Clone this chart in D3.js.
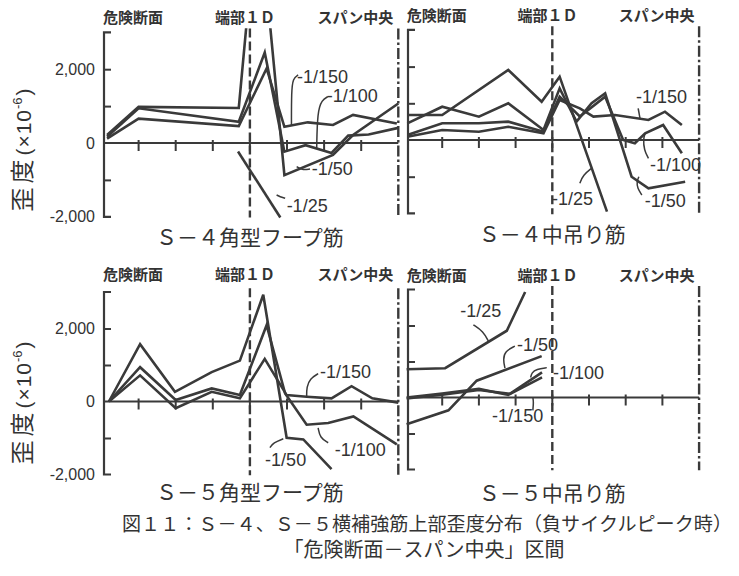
<!DOCTYPE html>
<html><head><meta charset="utf-8">
<script src="https://cdn.jsdelivr.net/npm/d3@7"></script>
<style>
body{margin:0;background:#fff}
text{fill:#333}
</style>
</head><body><svg id="c" width="739" height="576"></svg>
<script>
// ---------------- DATA ----------------
const seriesNames = ["-1/150", "-1/100", "-1/50", "-1/25"];
const headerLabels = ["危険断面", "端部１Ｄ", "スパン中央"];
const panelTitles = ["Ｓ－４角型フープ筋", "Ｓ－４中吊り筋", "Ｓ－５角型フープ筋", "Ｓ－５中吊り筋"];
const xTickPositions = [1, 2, 3, 4, 5, 6, 7];
const yMinorTicks = [-1000, 1000, 2000];
const yTickLabels = [-2000, 0, 2000];
const sectionLines = [4, 8];           // 端部1D, スパン中央 (gauge position)
const captionLines = ["図１１：Ｓ－４、Ｓ－５横補強筋上部歪度分布（負サイクルピーク時）", "「危険断面－スパン中央」区間"];
const yLabel = ["歪度", "(×10", "-6", ")"];

// [gauge position, strain (×10^-6)]
// S-4 角型フープ筋
const s4Hoop150 = [[0.15,120],[1,660],[3.7,460],[4.45,2020],[4.93,440],[5.56,560],[6.24,490],[6.78,760],[7.96,530]];
const s4Hoop100 = [[0.15,170],[1,940],[3.7,575],[4.4,2450],[4.93,-235],[5.5,-60],[6.2,-270],[6.65,200],[7.2,230],[8,410]];
const s4Hoop50  = [[0.15,220],[1,980],[3.7,950],[4.22,6600],[4.93,-870],[6.24,-325],[6.78,217],[8,1070]];
const s4Hoop25  = [[3.68,-230],[4.82,-2020]];
// S-4 中吊り筋
const s4Hang150 = [[0.05,90],[1,272],[2,226],[2.8,362],[3.76,182],[4.2,1090],[4.75,863],[5.12,636],[5.71,681],[6.62,545],[7.07,772],[7.53,409]];
const s4Hang100 = [[0.05,136],[1,455],[2,455],[2.8,500],[3.76,226],[4.2,1180],[4.75,640],[5.44,1180],[5.93,0],[6.25,-90],[6.53,182],[7.02,409],[7.53,-363]];
const s4Hang50  = [[0.05,455],[1,907],[2,635],[2.8,1000],[3.76,272],[4.2,1408],[4.66,500],[5.07,1000],[5.44,1272],[6.16,-1000],[6.62,-1316],[7.62,-1136]];
const s4Hang25  = [[0.05,681],[1,681],[2.8,1907],[3.71,1044],[4.2,1725],[5.49,-1950]];
// S-5 角型フープ筋
const s5Hoop150 = [[0.2,0],[1.04,716],[2,-185],[2.97,265],[3.73,86],[4.4,1168],[4.99,176],[5.53,130],[6.2,86],[6.74,419],[7.3,86],[8,-30]];
const s5Hoop100 = [[0.2,0],[1.04,940],[2,40],[2.97,357],[3.73,176],[4.45,2090],[4.95,220],[5.53,-635],[6.11,-590],[6.79,-410],[7.96,-1175]];
const s5Hoop50  = [[0.2,0],[1.04,1570],[1.98,265],[2.97,805],[3.73,1120],[4.36,2925],[4.99,-995],[5.44,-1040],[6.2,-1850]];
// S-5 中吊り筋
const s5Hang150 = [[0.03,-30],[1,80],[2,210],[2.85,100],[3.72,560]];
const s5Hang100 = [[0.03,0],[1,110],[2,240],[2.8,70],[3.72,700]];
const s5Hang50  = [[0.03,-745],[1.17,-356],[1.94,466],[3.71,1150]];
const s5Hang25  = [[0.03,786],[1.08,814],[2.76,1855],[3.26,2930]];

const panelSeries = [
  [s4Hoop150, s4Hoop100, s4Hoop50, s4Hoop25],
  [s4Hang150, s4Hang100, s4Hang50, s4Hang25],
  [s5Hoop150, s5Hoop100, s5Hoop50],
  [s5Hang150, s5Hang100, s5Hang50, s5Hang25]
];

// ---------------- LAYOUT ----------------
const layout = [
  {x0:101.5, dx:37.1, zero:143,   s:36.9, yAxisText:true,  headY:23,  titleY:245, labelY:150},
  {x0:405.5, dx:36.7, zero:140,   s:36.7, yAxisText:false, headY:21,  titleY:242},
  {x0:101.5, dx:37.1, zero:401.5, s:36.5, yAxisText:true,  headY:280, titleY:500, labelY:403},
  {x0:405.5, dx:36.7, zero:397.5, s:36.0, yAxisText:false, headY:281, titleY:501}
];
const headerK = [0.85, 3.87, 6.84];
// annotations: panel, series label, text anchor [k, strain], leader points [k, strain]
const annotations = [
  {p:0, t:"-1/150", at:[5.27,1626], lead:[[5.30,1843],[5.16,1753],[5.12,1390],[5.12,488]]},
  {p:0, t:"-1/100", at:[6.07,1111], lead:[[6.10,1255],[5.94,1165],[5.82,848],[5.80,-144]]},
  {p:0, t:"-1/50",  at:[5.67,-867], lead:[[5.62,-705],[5.40,-732],[5.26,-642]]},
  {p:0, t:"-1/25",  at:[4.99,-1862],lead:[[4.95,-1499],[4.81,-1455],[4.72,-1409]]},
  {p:1, t:"-1/150", at:[6.28,1008], lead:[[6.34,864],[6.39,591]]},
  {p:1, t:"-1/100", at:[6.66,-845], lead:[[6.62,-499],[6.50,-273],[6.48,46],[6.53,182]]},
  {p:1, t:"-1/50",  at:[6.52,-1826],lead:[[6.44,-1499],[6.32,-1316],[6.30,-1136],[6.36,-1000]]},
  {p:1, t:"-1/25",  at:[3.99,-1771],lead:[[4.75,-1180],[4.84,-954],[5.07,-771]]},
  {p:2, t:"-1/150", at:[5.89,635],  lead:[[5.84,762],[5.62,627],[5.53,400],[5.53,130]]},
  {p:2, t:"-1/100", at:[6.29,-1500],lead:[[6.11,-1130],[5.89,-995],[5.84,-724]]},
  {p:2, t:"-1/50",  at:[4.41,-1770],lead:[[4.54,-1265],[4.63,-1130],[4.90,-1022]]},
  {p:3, t:"-1/25",  at:[1.49,2247], lead:[[1.85,2019],[2.12,1836],[2.26,1562]]},
  {p:3, t:"-1/50",  at:[3.04,1288], lead:[[2.98,1425],[2.71,1288],[2.66,1060],[2.71,814]]},
  {p:3, t:"-1/100", at:[4.02,521],  lead:[[3.85,830],[3.57,786],[3.44,693],[3.41,556]]},
  {p:3, t:"-1/150", at:[2.36,-685], lead:[[3.47,-356],[3.49,-129],[3.47,8]]}
];

// ---------------- DRAW ----------------
const svg = d3.select("#c");
svg.append("rect").attr("width",739).attr("height",576).attr("fill","#fff");
const ink = "#3a3a3a";
const CJK = "'Noto Sans CJK JP','Noto Sans CJK SC',sans-serif";
const LAT = "'Liberation Sans',Arial,sans-serif";
const fmt = v => d3.format(",")(v).replace("−","-");

layout.forEach((L, i) => {
  const x = d3.scaleLinear().domain([0, 8]).range([L.x0, L.x0 + 8 * L.dx]);
  const y = d3.scaleLinear().domain([-2000, 3000]).range([L.zero + 2000 * L.s / 1000, L.zero - 3000 * L.s / 1000]);
  const g = svg.append("g");
  const bx = x(0) + 2.5;

  // bracket y-axis
  g.append("path")
    .attr("d", `M${bx+7},${y(3000)}H${bx}V${y(-2000)}H${bx+7}`)
    .attr("fill","none").attr("stroke",ink).attr("stroke-width",2.2);
  const yAx = d3.axisRight(y).tickValues(yMinorTicks).tickSize(7).tickFormat("");
  const ya = g.append("g").attr("transform",`translate(${bx},0)`).call(yAx);
  ya.select(".domain").remove();
  ya.selectAll("line").attr("stroke",ink).attr("stroke-width",2);

  if (L.yAxisText) {
    const yl = d3.axisLeft(y).tickValues(yTickLabels).tickSize(0).tickPadding(9).tickFormat(fmt);
    const yg = g.append("g").attr("transform",`translate(${bx},0)`).call(yl);
    yg.select(".domain").remove();
    yg.selectAll("text").attr("font-family",LAT).attr("font-size",16).attr("fill","#333");
    // y label
    const t = g.append("text").attr("transform",`translate(31,${L.labelY}) rotate(-90)`)
      .attr("text-anchor","middle").attr("fill","#333");
    t.append("tspan").text(yLabel[0]).attr("font-family",CJK).attr("font-size",24).attr("letter-spacing",4);
    t.append("tspan").text(yLabel[1]).attr("font-family",LAT).attr("font-size",21).attr("letter-spacing",1);
    t.append("tspan").text(yLabel[2]).attr("font-family",LAT).attr("font-size",13).attr("dy",-9);
    t.append("tspan").text(yLabel[3]).attr("font-family",LAT).attr("font-size",21).attr("dy",9).attr("dx",2);
  }

  // x axis
  g.append("line").attr("x1",bx).attr("x2",x(8)).attr("y1",y(0)).attr("y2",y(0))
    .attr("stroke",ink).attr("stroke-width",2.2);
  g.selectAll(".xt").data(xTickPositions).join("line")
    .attr("x1",d=>x(d)).attr("x2",d=>x(d)).attr("y1",y(0)-3).attr("y2",y(0)+8)
    .attr("stroke",ink).attr("stroke-width",2);

  // section lines
  g.append("line").attr("x1",x(sectionLines[0])).attr("x2",x(sectionLines[0]))
    .attr("y1",y(3100)).attr("y2",y(-2020))
    .attr("stroke",ink).attr("stroke-width",2.4).attr("stroke-dasharray","9,4");
  g.append("line").attr("x1",x(sectionLines[1])).attr("x2",x(sectionLines[1]))
    .attr("y1",y(3100)).attr("y2",y(-2020))
    .attr("stroke",ink).attr("stroke-width",2.4).attr("stroke-dasharray","11,3,2.5,3");

  // headers
  headerLabels.forEach((h, j) => {
    g.append("text").attr("x", x(headerK[j])).attr("y", L.headY).attr("text-anchor","middle")
      .attr("font-family",CJK).attr("font-size",15).attr("font-weight",700).attr("fill","#2e2e2e").text(h);
  });
  // title
  g.append("text").attr("x", x(4)).attr("y", L.titleY).attr("text-anchor","middle")
    .attr("font-family",CJK).attr("font-size",21).attr("fill","#3a3a3a").text(panelTitles[i]);

  // clip
  const cid = "clip" + i;
  g.append("clipPath").attr("id",cid).append("rect")
    .attr("x", x(0)).attr("width", x(8)-x(0)+4).attr("y", y(3110)).attr("height", y(-2150)-y(3110));

  const line = d3.line().x(d=>x(d[0])).y(d=>y(d[1]));
  const lg = g.append("g").attr("clip-path",`url(#${cid})`);
  panelSeries[i].forEach(sd => {
    lg.append("path").attr("d", line(sd)).attr("fill","none")
      .attr("stroke",ink).attr("stroke-width",2.6).attr("stroke-linejoin","miter");
  });

  // annotations
  const lead = d3.line().x(d=>x(d[0])).y(d=>y(d[1])).curve(d3.curveBasis);
  annotations.filter(a => a.p === i).forEach(a => {
    g.append("text").attr("x", x(a.at[0])).attr("y", y(a.at[1]))
      .attr("font-family",LAT).attr("font-size",18).attr("fill","#333").text(a.t);
    g.append("path").attr("d", lead(a.lead)).attr("fill","none")
      .attr("stroke",ink).attr("stroke-width",1.5);
  });
});

// caption
svg.append("text").attr("x",427).attr("y",531).attr("text-anchor","middle")
  .attr("font-family",CJK).attr("font-size",19).attr("fill","#333")
  .attr("textLength",610).attr("lengthAdjust","spacingAndGlyphs").text(captionLines[0]);
svg.append("text").attr("x",424).attr("y",557).attr("text-anchor","middle")
  .attr("font-family",CJK).attr("font-size",20).attr("fill","#333").text(captionLines[1]);
</script>
</body></html>
